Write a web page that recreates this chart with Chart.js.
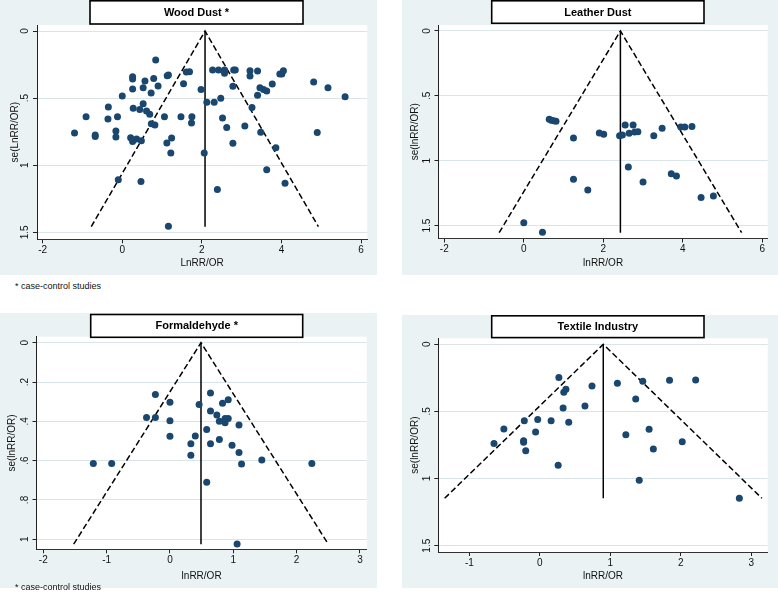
<!DOCTYPE html>
<html><head><meta charset="utf-8">
<script src="https://cdn.jsdelivr.net/npm/chart.js@4.4.0/dist/chart.umd.min.js"></script>
<style>
body{margin:0;background:#fff;width:778px;height:592px;position:relative;overflow:hidden;font-family:"Liberation Sans",Arial,sans-serif}
canvas{position:absolute}
.note{position:absolute;font-size:9px;line-height:10px;color:#111;white-space:nowrap}
</style></head><body>
<canvas id="c1" width="377" height="275" style="left:0px;top:0px"></canvas>
<canvas id="c2" width="376" height="275" style="left:402px;top:0px"></canvas>
<canvas id="c3" width="377" height="275" style="left:0px;top:313px"></canvas>
<canvas id="c4" width="376" height="273" style="left:402px;top:315px"></canvas>
<div class="note" style="left:15px;top:281px">* case-control studies</div>
<div class="note" style="left:15px;top:582px">* case-control studies</div>
<script>
// ---- Wood Dust ----
const woodX  = [0.84,0.26,0.26,0.57,0.79,1.13,1.16,1.61,1.69,0.9,1.54,1.98,0.26,0.525,0.725,0.0,-0.35,-0.91,-0.36,-0.12,0.275,0.44,0.525,0.61,0.69,0.73,0.82,1.06,1.475,1.75,1.74,-1.2,-0.68,-0.68,-0.16,-0.16,0.21,0.26,0.36,0.48,1.12,1.24,1.22,2.06,-0.1,0.47,1.16,
                2.27,2.42,2.57,2.57,2.80,2.84,3.21,3.21,3.4,3.96,4.01,4.05,2.78,3.46,3.55,3.63,3.4,3.77,4.81,5.17,5.6,2.125,2.31,2.475,3.26,2.52,2.625,3.08,3.48,4.9,2.78,3.86,3.63,2.39,4.09];
const woodSE = [0.216,0.34,0.358,0.373,0.353,0.333,0.328,0.305,0.303,0.41,0.392,0.435,0.432,0.422,0.462,0.484,0.566,0.638,0.656,0.638,0.576,0.584,0.541,0.596,0.621,0.69,0.70,0.638,0.638,0.638,0.685,0.76,0.775,0.785,0.745,0.79,0.795,0.824,0.805,0.817,0.834,0.797,0.909,0.909,1.108,1.122,1.455,
                0.29,0.29,0.29,0.315,0.29,0.29,0.296,0.335,0.298,0.32,0.32,0.296,0.412,0.422,0.435,0.447,0.479,0.395,0.38,0.422,0.489,0.531,0.531,0.5,0.569,0.648,0.718,0.708,0.755,0.757,0.837,0.869,1.033,1.18,1.135];
const woodFunnelX = [-0.78, 2.08, 4.93];
const woodFunnelSE = [1.458, 0, 1.458];

// ---- Leather Dust ----
const leatherX  = [0.64,0.69,0.75,0.81,1.25,1.9,2.01,2.41,2.48,2.55,2.75,2.65,2.79,2.87,3.27,3.48,3.95,4.05,4.23,2.63,1.25,1.61,3.0,3.71,3.84,4.46,4.77,0,0.47];
const leatherSE = [0.68,0.688,0.691,0.696,0.825,0.786,0.796,0.807,0.801,0.724,0.724,0.789,0.778,0.776,0.807,0.75,0.74,0.74,0.737,1.048,1.143,1.225,1.164,1.1,1.117,1.284,1.271,1.477,1.551];
const leatherFunnelX = [-0.62, 2.43, 5.48];
const leatherFunnelSE = [1.554, 0, 1.554];

// ---- Formaldehyde ----
const formX  = [-0.23,0.64,0.92,0,0.46,0.83,0.64,-0.37,-0.23,0,0.74,0.78,0.87,0.92,0.87,1.09,0.58,0.4,0,0.33,0.64,0.78,0.98,1.09,0.33,1.45,1.13,-1.21,-0.92,2.24,0.58,1.06];
const formSE = [0.263,0.256,0.29,0.303,0.314,0.308,0.347,0.38,0.38,0.397,0.368,0.4,0.385,0.386,0.407,0.419,0.442,0.475,0.476,0.514,0.514,0.493,0.522,0.559,0.573,0.597,0.617,0.614,0.614,0.614,0.71,1.024];
const formFunnelX = [-1.52, 0.49, 2.5];
const formFunnelSE = [1.025, 0, 1.025];

// ---- Textile Industry ----
const textX  = [0.27,0.37,0.34,0.74,1.1,1.46,1.84,2.21,1.36,0.33,0.64,-0.22,-0.03,0.16,0.41,-0.51,-0.06,-0.65,-0.23,-0.23,-0.2,0.26,1.22,1.55,1.61,2.02,1.41,2.83];
const textSE = [0.248,0.335,0.358,0.31,0.29,0.276,0.268,0.266,0.407,0.474,0.459,0.569,0.561,0.569,0.581,0.631,0.653,0.738,0.718,0.73,0.792,0.901,0.673,0.633,0.78,0.725,1.013,1.147];
const textFunnelX = [-1.35, 0.9, 3.15];
const textFunnelSE = [1.147, 0, 1.147];

// ---- ticks ----
const xTicksA = [-2,0,2,4,6];
const xTickLabelsA = ['-2','0','2','4','6'];
const yTicksA = [0,0.5,1,1.5];
const yTickLabelsA = ['0','.5','1','1.5'];
const xTicksForm = [-2,-1,0,1,2,3];
const xTickLabelsForm = ['-2','-1','0','1','2','3'];
const yTicksForm = [0,0.2,0.4,0.6,0.8,1];
const yTickLabelsForm = ['0','.2','.4','.6','.8','1'];
const xTicksText = [-1,0,1,2,3];
const xTickLabelsText = ['-1','0','1','2','3'];

const titles = ['Wood Dust *','Leather Dust','Formaldehyde *','Textile Industry'];
const xTitles = ['LnRR/OR','lnRR/OR','lnRR/OR','lnRR/OR'];
const yTitles = ['se(LnRR/OR)','se(lnRR/OR)','se(lnRR/OR)','se(lnRR/OR)'];

const FONT = '"Liberation Sans", Arial, sans-serif';
const NAVY = '#1a476f';

const panels = [
  {id:'c1', w:377,h:275, area:{l:37,t:25,r:367.3,b:239.3}, xr:[-2.143,6.158], yr:[-0.045,1.552],
   x:woodX, se:woodSE, fx:woodFunnelX, fse:woodFunnelSE, xt:xTicksA, xl:xTickLabelsA, yt:yTicksA, yl:yTickLabelsA,
   box:{x:90,y:0.8,w:213,h:23.2}, ytx:15, ti:0},
  {id:'c2', w:376,h:275, area:{l:36.5,t:25,r:365.7,b:238.5}, xr:[-2.146,6.136], yr:[-0.046,1.599],
   x:leatherX, se:leatherSE, fx:leatherFunnelX, fse:leatherFunnelSE, xt:xTicksA, xl:xTickLabelsA, yt:yTicksA, yl:yTickLabelsA,
   box:{x:89.7,y:0.8,w:212.3,h:22.5}, ytx:13, ti:1},
  {id:'c3', w:377,h:275, area:{l:36.5,t:23.7,r:366.7,b:236.3}, xr:[-2.107,3.106], yr:[-0.0305,1.051],
   x:formX, se:formSE, fx:formFunnelX, fse:formFunnelSE, xt:xTicksForm, xl:xTickLabelsForm, yt:yTicksForm, yl:yTickLabelsForm,
   box:{x:90.7,y:1.5,w:212,h:22.8}, ytx:12.5, ti:2},
  {id:'c4', w:376,h:273, area:{l:36.3,t:23.3,r:365.7,b:237}, xr:[-1.44,3.232], yr:[-0.0447,1.547],
   x:textX, se:textSE, fx:textFunnelX, fse:textFunnelSE, xt:xTicksText, xl:xTickLabelsText, yt:yTicksA, yl:yTickLabelsA,
   box:{x:89.7,y:0.8,w:212.3,h:21.8}, ytx:13, ti:3}
];

const panelPlugin = {
  id:'panelDeco',
  beforeDraw(chart){
    const ctx = chart.ctx, a = chart.chartArea;
    ctx.save();
    ctx.fillStyle = '#eaf2f3';
    ctx.fillRect(0,0,chart.width,chart.height);
    ctx.fillStyle = '#ffffff';
    ctx.fillRect(a.left, a.top, a.right-a.left, a.bottom-a.top);
    ctx.restore();
  },
  afterDraw(chart){
    const p = chart.options.plugins.panelDeco.p;
    const ctx = chart.ctx, a = chart.chartArea, ys = chart.scales.y;
    ctx.save();
    ctx.fillStyle = '#111';
    ctx.font = '10px ' + FONT;
    ctx.textAlign = 'center';
    ctx.textBaseline = 'middle';
    p.yt.forEach((v,i) => {
      const py = ys.getPixelForValue(v);
      ctx.save();
      ctx.translate(a.left - 11.5, py);
      ctx.rotate(-Math.PI/2);
      ctx.fillText(p.yl[i], 0, 0);
      ctx.restore();
    });
    const b = p.box;
    ctx.fillStyle = '#fff';
    ctx.fillRect(b.x, b.y, b.w, b.h);
    ctx.strokeStyle = '#000';
    ctx.lineWidth = 1.6;
    ctx.strokeRect(b.x, b.y, b.w, b.h);
    ctx.fillStyle = '#000';
    ctx.font = 'bold 11px ' + FONT;
    ctx.fillText(titles[p.ti], b.x + b.w/2, b.y + b.h/2 + 0.5);
    ctx.restore();
  }
};

panels.forEach(p => {
  const pts = p.x.map((v,i) => ({x:v, y:p.se[i]}));
  const funnel = p.fx.map((v,i) => ({x:v, y:p.fse[i]}));
  const vline = [{x:p.fx[1], y:0}, {x:p.fx[1], y:p.fse[0]}];
  new Chart(document.getElementById(p.id), {
    type:'scatter',
    data:{datasets:[
      {data:pts, backgroundColor:NAVY, borderColor:NAVY, borderWidth:0, pointRadius:3.5, pointHoverRadius:3.5},
      {data:funnel, showLine:true, borderColor:'#000', borderWidth:1.5, borderDash:[6,3], pointRadius:0, fill:false},
      {data:vline, showLine:true, borderColor:'#000', borderWidth:1.5, pointRadius:0, fill:false}
    ]},
    options:{
      responsive:false, animation:false, devicePixelRatio:1,
      layout:{padding:{left:0, top:p.area.t, right:p.w - p.area.r, bottom:0}},
      plugins:{legend:{display:false}, tooltip:{enabled:false}, panelDeco:{p:p}},
      scales:{
        x:{type:'linear', min:p.xr[0], max:p.xr[1],
           afterFit(s){ s.height = p.h - p.area.b; },
           afterBuildTicks(s){ s.ticks = p.xt.map(v => ({value:v})); },
           ticks:{callback:(v,i)=>p.xl[i], font:{size:10, family:FONT}, color:'#111', padding:1, maxRotation:0, autoSkip:false},
           grid:{drawOnChartArea:false, drawTicks:true, tickLength:4, tickColor:'#222', tickWidth:1},
           border:{display:true, color:'#333', width:1},
           title:{display:true, text:xTitles[p.ti], font:{size:10, family:FONT}, color:'#111', padding:{top:0,bottom:6}}
        },
        y:{type:'linear', reverse:true, min:p.yr[0], max:p.yr[1],
           afterFit(s){ s.width = p.area.l; },
           afterBuildTicks(s){ s.ticks = p.yt.map(v => ({value:v})); },
           ticks:{display:false},
           grid:{color:'#d9e5e8', lineWidth:1, drawTicks:true, tickLength:4, tickColor:'#222', tickWidth:1},
           border:{display:true, color:'#222', width:1},
           title:{display:true, text:yTitles[p.ti], font:{size:10, family:FONT}, color:'#111', padding:{top:p.ytx-6, bottom:0}}
        }
      }
    },
    plugins:[panelPlugin]
  });
});
</script>
</body></html>
